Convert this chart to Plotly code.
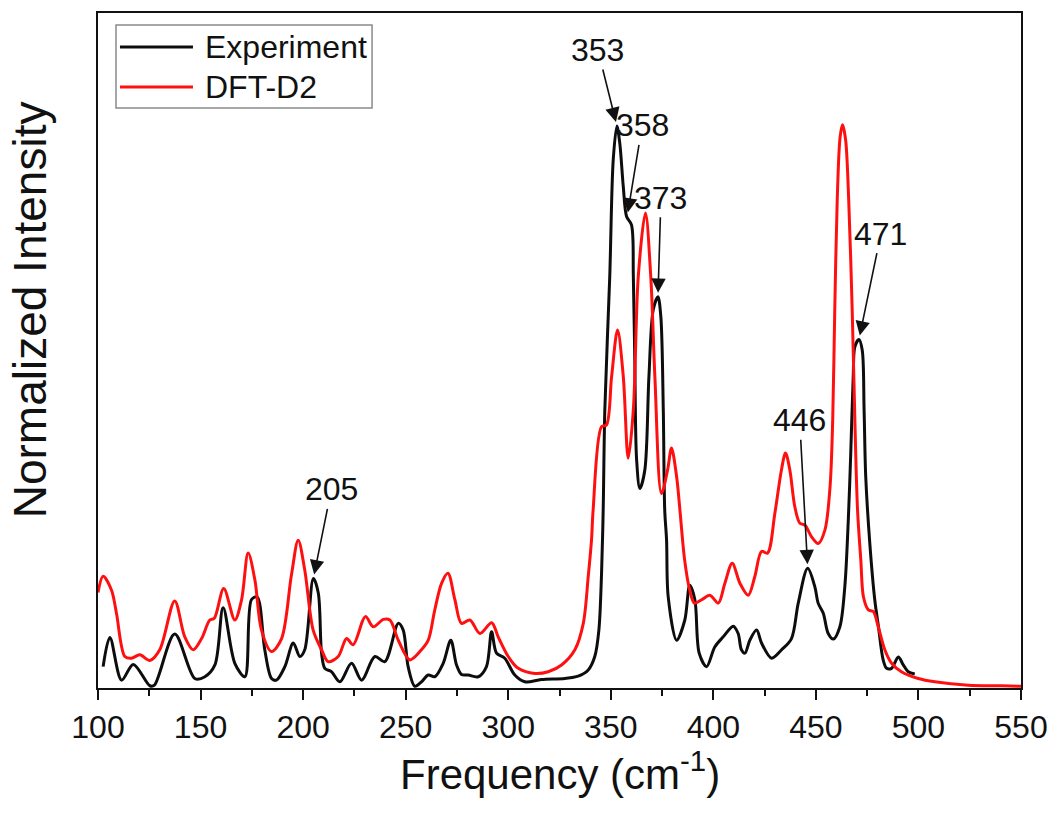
import plotly.graph_objects as go

# Experimental Raman spectrum (frequency in cm^-1, normalized intensity)
exp_freq = [102.5, 105.8, 111.5, 117.2, 125.3, 127.5, 137.4, 147.2, 152.1, 157.0,
            161.0, 166.7, 171.6, 174.8, 177.6, 181.3, 184.6, 187.0, 191.1, 195.2,
            198.4, 200.8, 205.0, 207.4, 209.0, 210.6, 213.8, 217.9, 223.6, 228.5,
            235.0, 239.8, 246.4, 248.8, 251.2, 254.5, 257.7, 261.0, 264.2, 268.3,
            272.0, 274.8, 277.2, 280.5, 285.4, 289.4, 291.9, 294.3, 298.3, 303.2,
            308.1, 316.2, 327.6, 334.1, 339.0, 342.2, 344.2, 345.5, 346.3, 347.1,
            349.5, 351.2, 353.0, 354.4, 356.1, 357.7, 360.1, 361.0, 361.7, 362.6,
            364.2, 366.6, 368.6, 370.7, 373.0, 374.4, 375.6, 376.3, 377.2, 378.0,
            382.1, 386.1, 388.5, 391.0, 393.1, 396.7, 400.7, 404.8, 409.7, 412.1,
            413.7, 415.4, 417.8, 421.1, 423.5, 428.4, 433.3, 438.1, 441.4, 446.0,
            449.5, 451.1, 453.6, 456.0, 458.5, 461.7, 464.1, 465.8, 467.0, 468.2,
            469.0, 471.0, 472.6, 473.5, 474.3, 476.3, 478.7, 480.4, 482.8, 484.5,
            486.9, 490.2, 492.6, 495.0, 498.2]
exp_int = [0.038, 0.090, 0.014, 0.042, 0.004, 0.005, 0.096, 0.017, 0.020, 0.041,
           0.143, 0.044, 0.020, 0.157, 0.162, 0.068, 0.017, 0.014, 0.038, 0.080,
           0.056, 0.068, 0.195, 0.169, 0.062, 0.035, 0.029, 0.011, 0.044, 0.014,
           0.056, 0.047, 0.115, 0.103, 0.038, 0.003, 0.011, 0.023, 0.020, 0.044,
           0.085, 0.041, 0.024, 0.023, 0.020, 0.038, 0.100, 0.062, 0.053, 0.023,
           0.011, 0.015, 0.017, 0.021, 0.032, 0.056, 0.103, 0.204, 0.317, 0.495,
           0.732, 0.940, 1.000, 0.969, 0.892, 0.839, 0.824, 0.732, 0.584, 0.406,
           0.355, 0.388, 0.554, 0.673, 0.696, 0.661, 0.495, 0.317, 0.263, 0.162,
           0.085, 0.121, 0.183, 0.157, 0.062, 0.038, 0.073, 0.091, 0.110, 0.097,
           0.068, 0.062, 0.085, 0.103, 0.080, 0.053, 0.068, 0.088, 0.151, 0.213,
           0.180, 0.151, 0.133, 0.097, 0.087, 0.109, 0.180, 0.299, 0.418, 0.554,
           0.607, 0.620, 0.601, 0.495, 0.376, 0.257, 0.157, 0.112, 0.050, 0.035,
           0.035, 0.055, 0.041, 0.029, 0.025]

# DFT-D2 computed spectrum
dft_freq = [100.0, 102.5, 106.6, 109.0, 113.1, 116.3, 120.4, 125.3, 130.1, 137.4,
            142.3, 146.4, 150.5, 154.5, 156.7, 161.3, 166.7, 170.0, 173.2, 176.5,
            179.7, 184.6, 189.5, 194.3, 197.6, 200.8, 204.9, 209.0, 212.2, 217.1,
            221.2, 224.4, 230.4, 234.2, 239.1, 242.3, 246.4, 252.0, 257.7, 261.0,
            264.2, 267.5, 270.6, 274.0, 277.2, 281.3, 286.2, 291.9, 295.1, 300.0,
            304.9, 313.0, 319.5, 326.0, 332.5, 336.6, 339.0, 340.6, 341.4, 345.5,
            347.9, 350.4, 353.3, 356.1, 358.5, 361.0, 363.4, 366.9, 369.5, 371.5,
            374.7, 377.7, 379.6, 382.1, 383.7, 386.0, 388.5, 390.8, 394.3, 398.3,
            402.4, 405.6, 409.2, 413.0, 417.0, 420.2, 423.5, 426.4, 430.0, 433.2,
            435.2, 437.3, 439.7, 442.2, 444.6, 447.9, 451.1, 454.4, 456.9, 458.2,
            459.2, 460.4, 461.8, 463.0, 464.5, 466.0, 467.7, 469.0, 470.3, 471.9,
            473.2, 475.6, 478.0, 480.4, 483.6, 486.9, 491.7, 499.9, 508.0, 524.3,
            540.5, 550.0]
dft_int = [0.170, 0.199, 0.174, 0.133, 0.056, 0.053, 0.059, 0.049, 0.068, 0.155,
           0.091, 0.068, 0.088, 0.121, 0.124, 0.177, 0.121, 0.157, 0.240, 0.192,
           0.103, 0.065, 0.088, 0.201, 0.263, 0.210, 0.103, 0.068, 0.047, 0.056,
           0.088, 0.077, 0.127, 0.109, 0.122, 0.121, 0.085, 0.050, 0.068, 0.085,
           0.139, 0.186, 0.204, 0.157, 0.115, 0.121, 0.097, 0.116, 0.091, 0.056,
           0.035, 0.026, 0.029, 0.041, 0.068, 0.115, 0.198, 0.263, 0.317, 0.465,
           0.468, 0.554, 0.637, 0.554, 0.409, 0.495, 0.732, 0.845, 0.732, 0.554,
           0.346, 0.388, 0.427, 0.376, 0.317, 0.228, 0.174, 0.151, 0.157, 0.165,
           0.151, 0.186, 0.222, 0.186, 0.165, 0.198, 0.243, 0.240, 0.311, 0.388,
           0.418, 0.388, 0.323, 0.293, 0.290, 0.269, 0.257, 0.281, 0.358, 0.477,
           0.673, 0.868, 0.980, 1.002, 0.975, 0.868, 0.673, 0.477, 0.317, 0.228,
           0.162, 0.139, 0.136, 0.109, 0.068, 0.044, 0.029, 0.017, 0.011, 0.005,
           0.004, 0.003]

# Labelled experimental peaks and the pixel offset of each label from its peak
peak_freq = [205, 353, 358, 373, 446, 471]
peak_int = [0.195, 1.000, 0.839, 0.696, 0.213, 0.620]
label_ax = [18, -19, 15, 3, -8, 22]
label_ay = [-89, -76, -91, -99, -148, -106]

series_names = ["Experiment", "DFT-D2"]
series_colors = ["#0d0d0d", "#ff1010"]

FONT = "Liberation Sans, Arial, sans-serif"
INK = "#111111"

fig = go.Figure()
fig.add_trace(go.Scatter(
    x=exp_freq, y=exp_int, mode="lines", name=series_names[0], showlegend=False,
    line=dict(color=series_colors[0], width=3, shape="spline", smoothing=0.9),
))
fig.add_trace(go.Scatter(
    x=dft_freq, y=dft_int, mode="lines", name=series_names[1], showlegend=False,
    line=dict(color=series_colors[1], width=3, shape="spline", smoothing=0.9),
))

for f, i, ax, ay in zip(peak_freq, peak_int, label_ax, label_ay):
    fig.add_annotation(
        x=f, y=i, text=str(f), showarrow=True, ax=ax, ay=ay,
        arrowhead=2, arrowsize=1.8, arrowwidth=1.6, arrowcolor=INK,
        standoff=4, font=dict(family=FONT, size=32, color=INK),
    )

# Legend box in the upper-left corner of the plotting area
fig.add_shape(type="rect", xref="paper", yref="paper",
              x0=0.0195, x1=0.2969, y0=0.8593, y1=0.9822,
              line=dict(color="#8a8a8a", width=1.5), fillcolor="white", layer="above")
legend_rows = [0.9496, 0.8904]
for name, color, yrow in zip(series_names, series_colors, legend_rows):
    fig.add_shape(type="line", xref="paper", yref="paper",
                  x0=0.0238, x1=0.1029, y0=yrow, y1=yrow,
                  line=dict(color=color, width=3), layer="above")
    fig.add_annotation(xref="paper", yref="paper", x=0.1135, y=yrow,
                       xanchor="left", yanchor="middle", showarrow=False,
                       text=name, font=dict(family=FONT, size=32, color=INK))

# Axis titles
fig.add_annotation(xref="paper", yref="paper", x=-0.0737, y=0.561,
                   xanchor="center", yanchor="middle", showarrow=False,
                   textangle=-90, text="Normalized Intensity",
                   font=dict(family=FONT, size=46, color=INK))
fig.add_annotation(xref="paper", yref="paper", x=0.5, y=-0.123,
                   xanchor="center", yanchor="middle", showarrow=False,
                   text="Frequency (cm<sup>-1</sup>)",
                   font=dict(family=FONT, size=42, color=INK))

fig.update_layout(
    width=1055, height=814,
    margin=dict(l=98, r=34, t=13, b=126, autoexpand=False),
    paper_bgcolor="white", plot_bgcolor="white",
    font=dict(family=FONT, color=INK),
    showlegend=False,
    xaxis=dict(
        range=[100, 550], tickmode="linear", tick0=100, dtick=50,
        ticks="outside", ticklen=10, tickwidth=2, tickcolor=INK,
        minor=dict(ticks="outside", ticklen=6, tickwidth=2, dtick=25, tickcolor=INK),
        showline=True, linewidth=2, linecolor=INK, mirror=True,
        showgrid=False, zeroline=False, automargin=False,
        tickfont=dict(family=FONT, size=32, color=INK),
    ),
    yaxis=dict(
        range=[0, 1.201], showticklabels=False, ticks="",
        showline=True, linewidth=2, linecolor=INK, mirror=True,
        showgrid=False, zeroline=False, automargin=False,
    ),
)

fig.write_html("out.html")
